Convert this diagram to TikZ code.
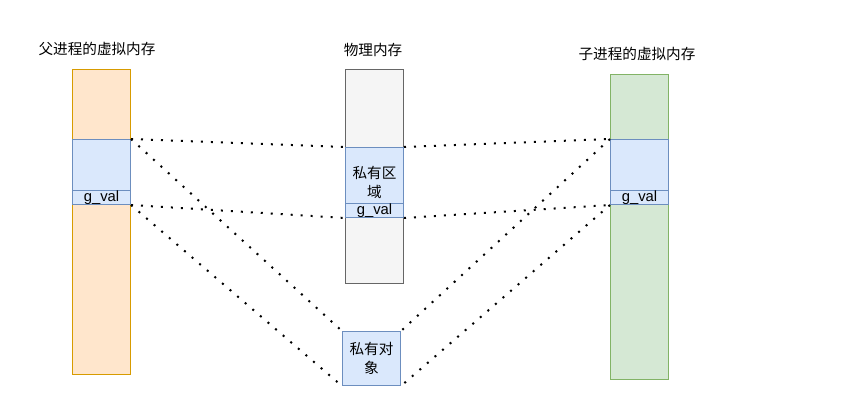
\documentclass[tikz,border=0pt]{standalone}
\usepackage{fontspec}
\setmainfont{Liberation Sans}
\newfontfamily\cjk{Noto Sans CJK SC}
\definecolor{orfill}{HTML}{FFE6CC}
\definecolor{ordraw}{HTML}{D79B00}
\definecolor{gyfill}{HTML}{F5F5F5}
\definecolor{gydraw}{HTML}{666666}
\definecolor{gnfill}{HTML}{D5E8D4}
\definecolor{gndraw}{HTML}{82B366}
\definecolor{blfill}{HTML}{DAE8FC}
\definecolor{bldraw}{HTML}{6C8EBF}
\tikzset{
  box/.style={draw, line width=1pt, inner sep=0pt, anchor=north west},
  memcol/.style={box, minimum width=58pt},
  blue/.style={box, fill=blfill, draw=bldraw, minimum width=58pt},
  title/.style={font=\cjk\fontsize{14.6}{17}\selectfont, inner sep=0pt},
  label/.style={font=\fontsize{14.8}{16}\selectfont, inner sep=0pt},
  cjklabel/.style={font=\cjk\fontsize{14.6}{19}\selectfont, align=center, inner sep=0pt},
  link/.style={line width=2pt, dash pattern=on 2pt off 8pt}
}
\begin{document}
\begin{tikzpicture}[x=1pt,y=-1pt]
\useasboundingbox (0,0) rectangle (844,419);

% column titles
\node[title] (tl) at (97,49) {父进程的虚拟内存};
\node[title] (tm) at (373,50) {物理内存};
\node[title] (tr) at (637,54) {子进程的虚拟内存};

% parent virtual memory
\node[memcol, fill=orfill, draw=ordraw, minimum height=305pt] (lvm) at (72,69) {};
\node[blue, minimum height=65pt] (lblk) at (72,139) {};
\node[blue, minimum height=14pt] (lg) at (72,190) {};
\node[label] (lgt) at (lg.center) {g\_val};

% physical memory
\node[memcol, fill=gyfill, draw=gydraw, minimum height=214pt] (pm) at (345,69) {};
\node[blue, minimum height=70pt] (mblk) at (345,147) {};
\node[blue, minimum height=14pt] (mg) at (345,203) {};
\node[label] (mgt) at (mg.center) {g\_val};
\node[cjklabel] (mtx) at (mblk.center) {私有区\\域};

% child virtual memory
\node[memcol, fill=gnfill, draw=gndraw, minimum height=305pt] (rvm) at (610,74) {};
\node[blue, minimum height=65pt] (rblk) at (610,139) {};
\node[blue, minimum height=14pt] (rg) at (610,190) {};
\node[label] (rgt) at (rg.center) {g\_val};

% private object
\node[blue, minimum height=54pt] (obj) at (342,331) {};
\node[cjklabel] (otx) at (obj.center) {私有对\\象};

% mappings
\draw[link] (lblk.north east) -- (mblk.north west);
\draw[link] (lblk.south east) -- (mblk.south west);
\draw[link] (mblk.north east) -- (rblk.north west);
\draw[link] (mblk.south east) -- (rblk.south west);
\draw[link] (lblk.north east) -- (obj.north west);
\draw[link] (lblk.south east) -- (obj.south west);
\draw[link] (rblk.north west) -- (obj.north east);
\draw[link] (rblk.south west) -- (obj.south east);
\end{tikzpicture}
\end{document}
